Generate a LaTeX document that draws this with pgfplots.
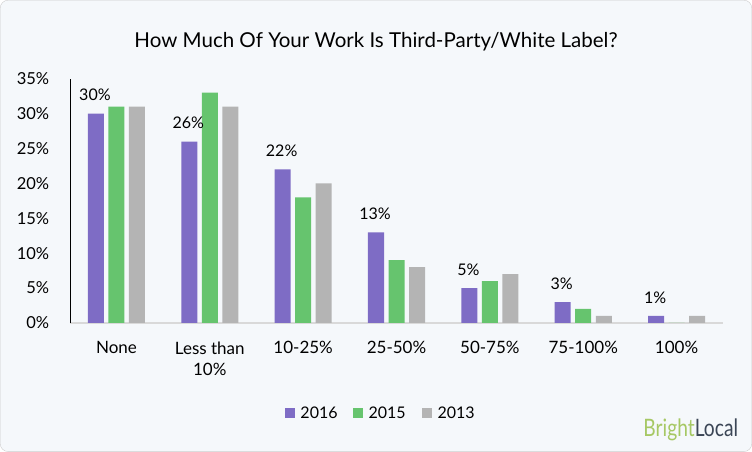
\documentclass[border=0pt]{standalone}
\usepackage{fontspec}
\setmainfont{Lato}
\usepackage{pgfplots}
\pgfplotsset{compat=1.18}
\definecolor{bgc}{HTML}{F5F8FB}
\definecolor{c16}{HTML}{7E6CC5}
\definecolor{c15}{HTML}{66C46E}
\definecolor{c13}{HTML}{B4B4B4}
\definecolor{bright}{HTML}{A6C864}
\definecolor{local}{HTML}{3B4656}

\begin{document}
\begin{tikzpicture}[x=1pt,y=1pt]
  % frame and background
  \draw[rounded corners=8pt, draw=black!20, fill=bgc] (0.5,0.5) rectangle (751.5,451.5);
  \node[font=\fontsize{20.5}{22}\selectfont] at (376,410) {How Much Of Your Work Is Third-Party/White Label?};
  \begin{axis}[
      at={(70pt,129pt)}, anchor=south west,
      scale only axis,
      width=653pt, height=244pt,
      ybar=4.5pt, bar width=16pt,
      ymin=0, ymax=35,
      xmin=-0.5, xmax=6.5,
      ytick={0,5,...,35},
      yticklabel={\pgfmathprintnumber{\tick}\%},
      xtick={0,...,6},
      xticklabels={None,{Less than\\10\%},10-25\%,25-50\%,50-75\%,75-100\%,100\%},
      xticklabel style={align=center, font=\fontsize{17}{21}\selectfont, yshift=-15pt},
      yticklabel style={font=\fontsize{16.5}{18}\selectfont, xshift=-17pt},
      /pgf/number format/assume math mode=true,
      major tick length=0pt,
      axis x line*=bottom,
      axis y line=none,
      x axis line style={draw=black!15, line width=1.2pt},
      ytick style={draw=none}, xtick style={draw=none},
      hide y axis=false,
      every axis plot/.append style={draw=none},
      nodes near coords style={font=\fontsize{16}{18}\selectfont, yshift=9pt, xshift=-1pt},
    ]
    \addplot[fill=c16, nodes near coords={\pgfmathprintnumber{\pgfplotspointmeta}\%}] coordinates {
      (0,30) (1,26) (2,22) (3,13) (4,5) (5,3) (6,1)};
    \addplot[fill=c15] coordinates {
      (0,31) (1,33) (2,18) (3,9) (4,6) (5,2) (6,0)};
    \addplot[fill=c13] coordinates {
      (0,31) (1,31) (2,20) (3,8) (4,7) (5,1) (6,1)};
  \end{axis}
  % legend
  \begin{scope}[font=\fontsize{16}{18}\selectfont]
    \fill[c16] (285,34) rectangle (295,44);
    \node[anchor=west] at (297,39) {2016};
    \fill[c15] (353,34) rectangle (363,44);
    \node[anchor=west] at (365,39) {2015};
    \fill[c13] (422,34) rectangle (432,44);
    \node[anchor=west] at (434,39) {2013};
  \end{scope}
  \node[anchor=east, inner sep=0pt, font=\fontsize{24}{26}\selectfont] at (738,22)
    {\scalebox{0.8}[1]{\textcolor{bright}{Bright}\textcolor{local}{Local}}};
\end{tikzpicture}
\end{document}
